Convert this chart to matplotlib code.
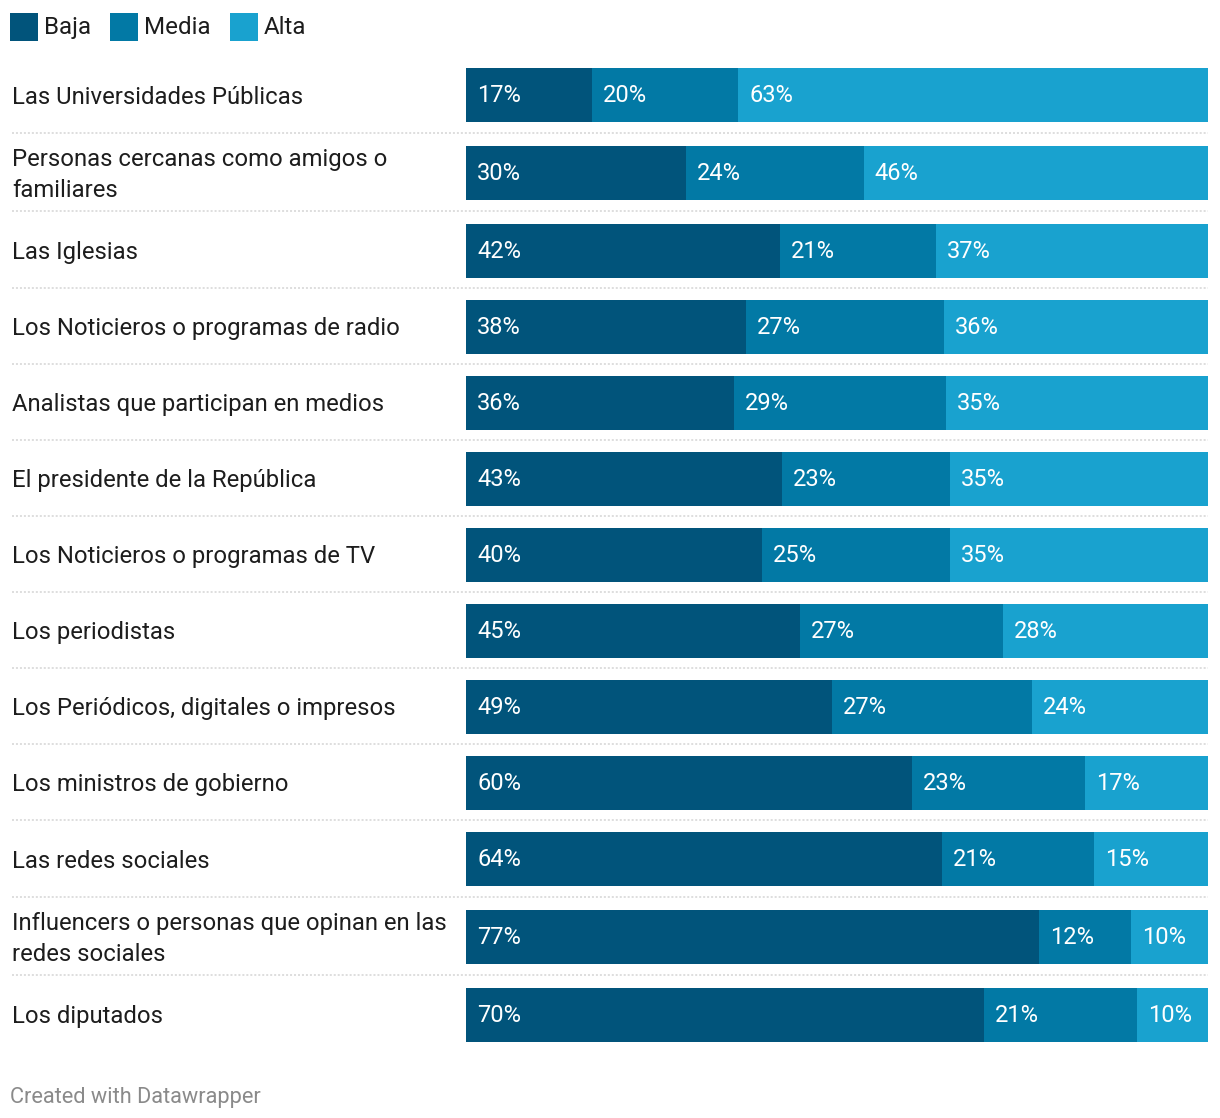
import matplotlib
matplotlib.use('Agg')
import matplotlib.pyplot as plt
import matplotlib.transforms as mtransforms
from matplotlib.patches import Rectangle
import numpy as np

plt.rcParams['font.family'] = ['Roboto', 'DejaVu Sans']

categories = [
    'Las Universidades Públicas',
    'Personas cercanas como amigos o\nfamiliares',
    'Las Iglesias',
    'Los Noticieros o programas de radio',
    'Analistas que participan en medios',
    'El presidente de la República',
    'Los Noticieros o programas de TV',
    'Los periodistas',
    'Los Periódicos, digitales o impresos',
    'Los ministros de gobierno',
    'Las redes sociales',
    'Influencers o personas que opinan en las\nredes sociales',
    'Los diputados',
]
baja = [17.0, 29.6, 42.3, 37.7, 36.1, 42.6, 39.9, 45.0, 49.3, 60.1, 64.1, 77.1, 69.8]
media = [19.7, 24.0, 21.0, 26.7, 28.6, 22.6, 25.3, 27.4, 27.0, 23.3, 20.6, 12.4, 20.6]
alta = [63.3, 46.4, 36.7, 35.6, 35.3, 34.8, 34.8, 27.6, 23.7, 16.6, 15.3, 10.4, 9.6]
series_names = ['Baja', 'Media', 'Alta']
colors = ['#01547b', '#0279a5', '#19a2cf']

W, H = 1220, 1118
fig = plt.figure(figsize=(W / 100, H / 100), dpi=100)
ax = fig.add_axes([466 / W, 0, 742 / W, 1])
ax.set_xlim(0, 1)
ax.set_ylim(H, 0)
ax.axis('off')

# row layout (pixel units): wrapped labels take a bit more room
centers = []
y = 95
for i, c in enumerate(categories):
    if i > 0:
        step = 76
        if '\n' in categories[i - 1]:
            step += 2
        if '\n' in c:
            step += 2
        y += step
    centers.append(y)
centers = np.array(centers)
bar_h = 54

data = np.array([baja, media, alta])
shares = data / data.sum(axis=0)
left = np.zeros(len(categories))
for k in range(3):
    ax.barh(centers, shares[k], left=left, height=bar_h, color=colors[k], linewidth=0)
    for i in range(len(categories)):
        ax.text(left[i] + 11 / 742, centers[i] - 2, f'{data[k, i]:.0f}%', color='white',
                fontsize=17, va='center_baseline', ha='left')
    left += shares[k]

lab_tr = mtransforms.blended_transform_factory(fig.transFigure, ax.transData)
for i, c in enumerate(categories):
    ax.text(12 / W, centers[i] + 2, c, transform=lab_tr, fontsize=17.2, color='#1d1d1d',
            va='center', ha='left', linespacing=1.43)

# dotted separators
for i in range(len(centers) - 1):
    ys = (centers[i] + bar_h / 2 + centers[i + 1] - bar_h / 2) / 2 - 1.5
    ax.plot([12 / W, 1208 / W], [ys, ys], transform=lab_tr, color='#d4d4d4',
            lw=1.1, linestyle=(0, (1.3, 1.3)), clip_on=False)

# legend
leg_x = [10, 110, 230]
for name, col, lx in zip(series_names, colors, leg_x):
    fig.patches.append(Rectangle((lx / W, 1 - 41 / H), 28 / W, 28 / H,
                                 transform=fig.transFigure, color=col, lw=0))
    fig.text((lx + 34) / W, 1 - 25 / H, name, fontsize=17.4, color='#1d1d1d',
             va='center_baseline', ha='left')

fig.text(10 / W, 1 - 1095 / H, 'Created with Datawrapper', fontsize=15.7, color='#8a8a8a',
         va='center_baseline', ha='left')

fig.savefig('out.png', dpi=100)
